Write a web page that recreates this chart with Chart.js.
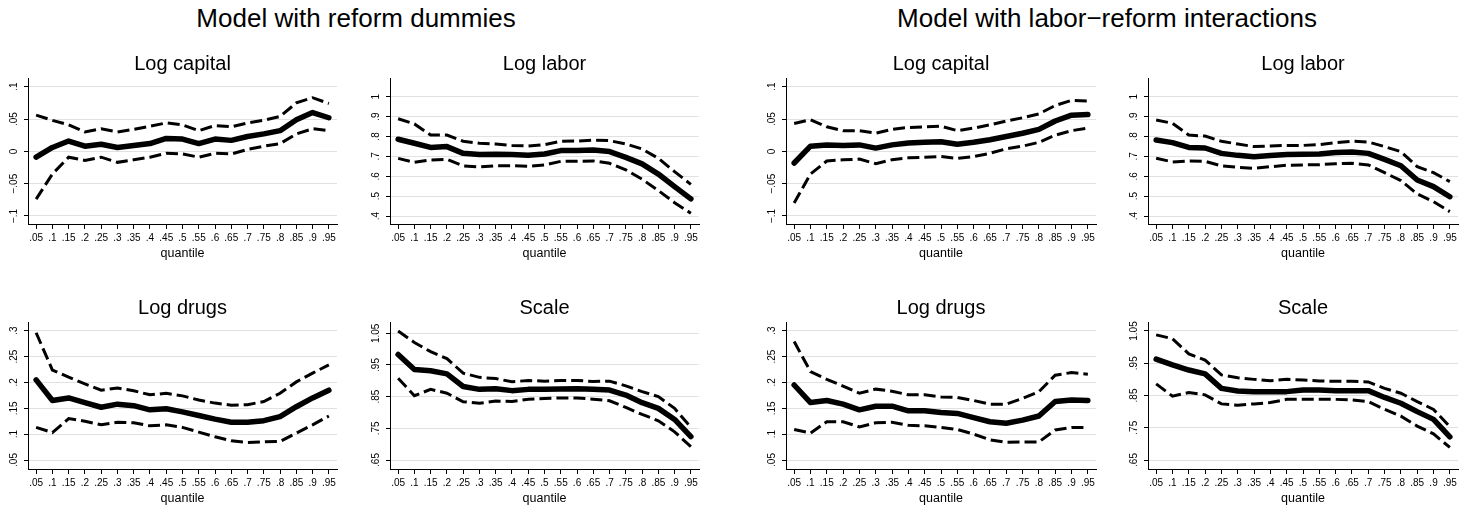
<!DOCTYPE html>
<html><head><meta charset="utf-8">
<script src="https://cdn.jsdelivr.net/npm/chart.js@4.4.0/dist/chart.umd.min.js"></script>
<style>
html,body{margin:0;padding:0;background:#fff;}
body{width:1472px;height:514px;position:relative;overflow:hidden;font-family:"Liberation Sans",Arial,sans-serif;}
canvas{position:absolute;}
.hdr{position:absolute;font-size:26px;line-height:1;color:#000;white-space:nowrap;transform:translateX(-50%);}
</style></head><body>
<div class="hdr" style="left:356px;top:5px">Model with reform dummies</div>
<div class="hdr" style="left:1107px;top:5px">Model with labor−reform interactions</div>
<script>
const quantiles = ['.05','.1','.15','.2','.25','.3','.35','.4','.45','.5','.55','.6','.65','.7','.75','.8','.85','.9','.95'];

// Model with reform dummies
const dumCapitalEst = [-0.009,0.006,0.016,0.008,0.011,0.006,0.009,0.012,0.020,0.019,0.012,0.019,0.017,0.023,0.027,0.032,0.049,0.060,0.052];
const dumCapitalHi  = [0.056,0.048,0.041,0.030,0.035,0.030,0.034,0.039,0.044,0.041,0.032,0.040,0.038,0.044,0.048,0.054,0.075,0.083,0.074];
const dumCapitalLo  = [-0.074,-0.035,-0.009,-0.014,-0.009,-0.017,-0.013,-0.009,-0.003,-0.004,-0.009,-0.003,-0.004,0.003,0.008,0.012,0.027,0.035,0.032];
const dumLaborEst = [0.786,0.766,0.745,0.749,0.715,0.709,0.710,0.709,0.705,0.712,0.729,0.729,0.732,0.724,0.695,0.662,0.611,0.548,0.486];
const dumLaborHi  = [0.889,0.863,0.807,0.807,0.776,0.766,0.762,0.755,0.752,0.759,0.776,0.777,0.782,0.779,0.762,0.737,0.690,0.623,0.559];
const dumLaborLo  = [0.690,0.670,0.682,0.685,0.652,0.647,0.653,0.653,0.650,0.657,0.675,0.675,0.677,0.665,0.632,0.585,0.528,0.467,0.414];
const dumDrugsEst = [0.205,0.165,0.170,0.161,0.152,0.158,0.155,0.147,0.149,0.143,0.136,0.129,0.123,0.123,0.126,0.134,0.153,0.170,0.185];
const dumDrugsHi  = [0.296,0.224,0.210,0.197,0.185,0.189,0.184,0.176,0.179,0.174,0.166,0.160,0.156,0.157,0.163,0.179,0.201,0.218,0.234];
const dumDrugsLo  = [0.113,0.103,0.130,0.125,0.118,0.123,0.122,0.116,0.118,0.113,0.104,0.095,0.087,0.084,0.085,0.086,0.102,0.118,0.135];
const dumScaleEst = [0.983,0.936,0.932,0.922,0.882,0.873,0.875,0.869,0.873,0.873,0.874,0.875,0.873,0.871,0.855,0.831,0.813,0.778,0.724];
const dumScaleHi  = [1.057,1.021,0.992,0.970,0.924,0.911,0.907,0.897,0.901,0.899,0.901,0.901,0.898,0.899,0.884,0.866,0.850,0.813,0.753];
const dumScaleLo  = [0.908,0.853,0.873,0.861,0.834,0.829,0.836,0.835,0.842,0.844,0.846,0.846,0.842,0.837,0.816,0.794,0.774,0.739,0.692];

// Model with labor-reform interactions
const intCapitalEst = [-0.018,0.008,0.010,0.009,0.010,0.005,0.010,0.013,0.014,0.015,0.011,0.014,0.018,0.023,0.028,0.034,0.047,0.056,0.057];
const intCapitalHi  = [0.043,0.049,0.038,0.032,0.032,0.028,0.034,0.037,0.038,0.039,0.032,0.036,0.041,0.047,0.052,0.058,0.071,0.079,0.078];
const intCapitalLo  = [-0.080,-0.035,-0.015,-0.013,-0.012,-0.019,-0.013,-0.010,-0.009,-0.008,-0.011,-0.008,-0.003,0.004,0.008,0.014,0.025,0.032,0.036];
const intLaborEst = [0.782,0.769,0.745,0.742,0.715,0.705,0.698,0.704,0.709,0.710,0.712,0.719,0.722,0.715,0.685,0.653,0.581,0.548,0.497];
const intLaborHi  = [0.883,0.866,0.807,0.802,0.776,0.762,0.749,0.752,0.755,0.755,0.759,0.769,0.776,0.772,0.749,0.724,0.648,0.618,0.573];
const intLaborLo  = [0.690,0.672,0.677,0.675,0.652,0.645,0.640,0.648,0.655,0.657,0.658,0.663,0.665,0.657,0.618,0.578,0.511,0.472,0.422];
const intDrugsEst = [0.195,0.161,0.165,0.158,0.147,0.154,0.154,0.145,0.145,0.142,0.140,0.132,0.124,0.121,0.127,0.135,0.163,0.166,0.165];
const intDrugsHi  = [0.279,0.221,0.206,0.193,0.179,0.187,0.183,0.176,0.176,0.172,0.171,0.165,0.158,0.158,0.169,0.182,0.214,0.219,0.216];
const intDrugsLo  = [0.109,0.102,0.124,0.124,0.114,0.122,0.123,0.117,0.116,0.113,0.109,0.100,0.089,0.084,0.085,0.085,0.108,0.113,0.113];
const intScaleEst = [0.963,0.945,0.929,0.917,0.872,0.864,0.862,0.862,0.862,0.867,0.867,0.865,0.865,0.865,0.844,0.826,0.800,0.776,0.722];
const intScaleHi  = [1.038,1.026,0.979,0.960,0.914,0.905,0.900,0.896,0.900,0.898,0.895,0.894,0.894,0.892,0.872,0.857,0.831,0.807,0.753];
const intScaleLo  = [0.886,0.848,0.859,0.852,0.824,0.820,0.824,0.828,0.838,0.838,0.838,0.838,0.836,0.831,0.807,0.786,0.755,0.731,0.689];

// Tick values and labels
const capitalTicks = [-0.1,-0.05,0,0.05,0.1];
const capitalTickLabels = ['\u2212.1','\u2212.05','0','.05','.1'];
const laborTicks = [0.4,0.5,0.6,0.7,0.8,0.9,1];
const laborTickLabels = ['.4','.5','.6','.7','.8','.9','1'];
const drugsTicks = [0.05,0.1,0.15,0.2,0.25,0.3];
const drugsTickLabels = ['.05','.1','.15','.2','.25','.3'];
const scaleTicks = [0.65,0.75,0.85,0.95,1.05];
const scaleTickLabels = ['.65','.75','.85','.95','1.05'];

const FONT = '"Liberation Sans", Arial, sans-serif';
const measureCtx = document.createElement('canvas').getContext('2d');
measureCtx.font = '10px ' + FONT;

function makePanel(p) {
  const cv = document.createElement('canvas');
  cv.width = p.w; cv.height = p.h;
  cv.style.left = p.left + 'px'; cv.style.top = p.top + 'px';
  cv.style.width = p.w + 'px'; cv.style.height = p.h + 'px';
  document.body.appendChild(cv);
  const widest = Math.max(...p.tickLabels.map(t => measureCtx.measureText(t).width));
  const yPad = 13.5 - 4 - widest / 2;
  const dash = {borderColor:'#000', borderWidth:3, borderDash:[12,5], pointRadius:0, tension:0, fill:false, borderCapStyle:'butt'};
  new Chart(cv, {
    type: 'line',
    data: {
      labels: quantiles,
      datasets: [
        Object.assign({data: p.hi}, dash),
        Object.assign({data: p.lo}, dash),
        {data: p.est, borderColor:'#000', borderWidth:5.5, pointRadius:0, tension:0, fill:false,
         borderCapStyle:'round', borderJoinStyle:'round'}
      ]
    },
    options: {
      responsive: false, animation: false, devicePixelRatio: 1,
      layout: {padding: {left: 0, right: 8, top: 0, bottom: 0}},
      plugins: {
        legend: {display: false},
        tooltip: {enabled: false},
        title: {display: true, fullSize: false, text: p.title, color: '#000',
          font: {family: FONT, size: 20, weight: 'normal', lineHeight: 1.15},
          padding: {top: 3, bottom: 2}}
      },
      scales: {
        x: {
          type: 'category', offset: true,
          grid: {display: true, drawOnChartArea: false, drawTicks: true, tickLength: 5, tickColor: '#000', tickWidth: 1},
          border: {display: true, color: '#000', width: 1},
          ticks: {autoSkip: false, maxRotation: 0, minRotation: 0, color: '#000', font: {family: FONT, size: 10}, padding: 3},
          title: {display: true, text: 'quantile', color: '#000', font: {family: FONT, size: 12.5, lineHeight: 1.2}, padding: {top: 0, bottom: 0.5}},
          afterFit(s) { s.height = 38; }
        },
        y: {
          type: 'linear', min: p.yMin, max: p.yMax,
          afterBuildTicks(s) { s.ticks = p.ticks.map(v => ({value: v})); },
          grid: {color: '#e1e1e1', lineWidth: 1, drawTicks: true, tickLength: 4, tickColor: '#000', tickWidth: 1},
          border: {display: true, color: '#000', width: 1},
          ticks: {minRotation: 90, maxRotation: 90, crossAlign: 'center', padding: yPad, color: '#000',
            font: {family: FONT, size: 10},
            callback(v) {
              const i = p.ticks.findIndex(t => Math.abs(t - v) < 1e-9);
              return i >= 0 ? p.tickLabels[i] : '';
            }},
          afterFit(s) { s.width = 28; }
        }
      }
    }
  });
}

const row1 = {top: 50, h: 212};
const row2 = {top: 294, h: 213};
const cols = [{left: 0, w: 345}, {left: 362, w: 345}, {left: 758, w: 346}, {left: 1120, w: 346}];

makePanel(Object.assign({title:'Log capital', est:dumCapitalEst, hi:dumCapitalHi, lo:dumCapitalLo, yMin:-0.1124, yMax:0.1135, ticks:capitalTicks, tickLabels:capitalTickLabels}, cols[0], row1));
makePanel(Object.assign({title:'Log labor', est:dumLaborEst, hi:dumLaborHi, lo:dumLaborLo, yMin:0.3598, yMax:1.094, ticks:laborTicks, tickLabels:laborTickLabels}, cols[1], row1));
makePanel(Object.assign({title:'Log drugs', est:dumDrugsEst, hi:dumDrugsHi, lo:dumDrugsLo, yMin:0.0326, yMax:0.3168, ticks:drugsTicks, tickLabels:drugsTickLabels}, cols[0], row2));
makePanel(Object.assign({title:'Scale', est:dumScaleEst, hi:dumScaleHi, lo:dumScaleLo, yMin:0.6216, yMax:1.0857, ticks:scaleTicks, tickLabels:scaleTickLabels}, cols[1], row2));
makePanel(Object.assign({title:'Log capital', est:intCapitalEst, hi:intCapitalHi, lo:intCapitalLo, yMin:-0.1124, yMax:0.1135, ticks:capitalTicks, tickLabels:capitalTickLabels}, cols[2], row1));
makePanel(Object.assign({title:'Log labor', est:intLaborEst, hi:intLaborHi, lo:intLaborLo, yMin:0.3598, yMax:1.094, ticks:laborTicks, tickLabels:laborTickLabels}, cols[3], row1));
makePanel(Object.assign({title:'Log drugs', est:intDrugsEst, hi:intDrugsHi, lo:intDrugsLo, yMin:0.0326, yMax:0.3168, ticks:drugsTicks, tickLabels:drugsTickLabels}, cols[2], row2));
makePanel(Object.assign({title:'Scale', est:intScaleEst, hi:intScaleHi, lo:intScaleLo, yMin:0.6221, yMax:1.0779, ticks:scaleTicks, tickLabels:scaleTickLabels}, cols[3], row2));
</script>
</body></html>
